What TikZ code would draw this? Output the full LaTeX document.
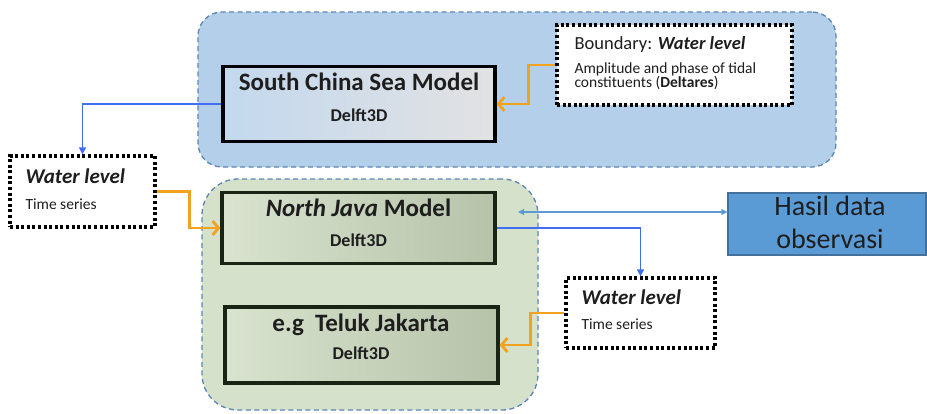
\documentclass[tikz,border=0pt]{standalone}
\usepackage{fontspec}
\setmainfont{Carlito}
\usetikzlibrary{arrows.meta}
\definecolor{seafill}{HTML}{B4CFEA}
\definecolor{landfill}{HTML}{D5E1CB}
\definecolor{contline}{HTML}{5B85B5}
\definecolor{orangeline}{HTML}{F3A21E}
\definecolor{blueline}{HTML}{3F6FF0}
\definecolor{obsblue}{HTML}{5B9BD5}
\definecolor{obsedge}{HTML}{41719C}
\definecolor{scsleft}{HTML}{C3D8EE}
\definecolor{scsright}{HTML}{E2E2E2}
\definecolor{njleft}{HTML}{D9E3CF}
\definecolor{njright}{HTML}{B6C3A9}
\definecolor{njedge}{HTML}{1A2414}
\definecolor{txt}{HTML}{1E1E1E}
\begin{document}
\begin{tikzpicture}[x=1pt,y=-1pt,
  container/.style={draw=contline, line width=1.3pt, dash pattern=on 5pt off 3.5pt, inner sep=0pt},
  modelbox/.style={draw=black, line width=3.2pt, inner sep=0pt},
  greenbox/.style={modelbox, draw=njedge, left color=njleft, right color=njright},
  dotbox/.style={draw=black, fill=white, line width=3.2pt, dash pattern=on 3pt off 2.6pt, inner sep=0pt},
  title/.style={anchor=base, text=txt, font=\fontsize{25}{30}\selectfont\bfseries},
  sub/.style={anchor=base, text=txt, font=\fontsize{18}{21}\selectfont\bfseries},
  small/.style={anchor=base west, text=txt, font=\fontsize{15.5}{18}\selectfont},
  wl/.style={anchor=base west, text=txt, font=\fontsize{21}{25}\selectfont\bfseries\itshape},
  obs/.style={anchor=base, text=txt, font=\fontsize{28}{33}\selectfont},
  oarr/.style={draw=orangeline, line width=2.8pt, -{Straight Barb[length=6pt,width=14pt]}},
  barr/.style={draw=blueline, line width=1.5pt, -{Triangle[length=7pt,width=7pt]}},
  darr/.style={draw=obsblue, line width=1.2pt, {Triangle[length=6pt,width=6pt]}-{Triangle[length=6pt,width=6pt]}}
]
\useasboundingbox (0,0) rectangle (927,413);

% containers
\node[container, fill=seafill, rounded corners=24pt, minimum width=638pt, minimum height=155pt] (sea) at (517,89.5) {};
\node[container, fill=landfill, rounded corners=36pt, minimum width=336pt, minimum height=231pt] (land) at (370,294.5) {};

% model boxes
\node[modelbox, left color=scsleft, right color=scsright, minimum width=272pt, minimum height=75pt] (scs) at (359,104) {};
\node[title] (scst) at (359,90) {South China Sea Model};
\node[sub] (scsd) at (359,121) {Delft3D};

\node[greenbox, minimum width=273pt, minimum height=71pt] (nj) at (358.5,228) {};
\node[title] (njt) at (358.5,216) {\itshape North Java\upshape\ Model};
\node[sub] (njd) at (358.5,246) {Delft3D};

\node[greenbox, minimum width=273pt, minimum height=76pt] (tj) at (361.5,345) {};
\node[title] (tjt) at (361,331) {e.g\ \ Teluk Jakarta};
\node[sub] (tjd) at (361,359) {Delft3D};

% dotted boxes
\node[dotbox, minimum width=235pt, minimum height=80pt] (bnd) at (674.5,65) {};
\node[anchor=base west, text=txt, font=\fontsize{18.5}{22}\selectfont] (bndt) at (571,49) {Boundary: \textbf{\textit{Water level}}};
\node[small] (bnd1) at (571,73) {Amplitude and phase of tidal};
\node[small] (bnd2) at (571,87) {constituents (\textbf{Deltares})};

\node[dotbox, minimum width=145pt, minimum height=71pt] (wll) at (82.5,191.5) {};
\node[wl] (wllt) at (22,183) {Water level};
\node[small] (wlls) at (22,209) {Time series};

\node[dotbox, minimum width=149pt, minimum height=70pt] (wlr) at (640.5,313) {};
\node[wl] (wlrt) at (578,304) {Water level};
\node[small] (wlrs) at (578,329) {Time series};

% observation box
\node[draw=obsedge, fill=obsblue, line width=1.2pt, minimum width=198pt, minimum height=62pt, inner sep=0pt] (obs) at (827,224) {};
\node[obs] (obs1) at (830,215) {Hasil data};
\node[obs] (obs2) at (830,248) {observasi};

% connectors
\draw[oarr] (bnd.west) -- ++(-27,0) |- (scs.east);
\draw[barr] (scs.west) -| (wll.north);
\draw[oarr] (wll.east) -- ++(33,0) |- (nj.west);
\draw[barr] (nj.east) -| (wlr.north);
\draw[oarr] (wlr.west) -- ++(-34,0) |- (tj.east);
\coordinate (obsin) at (518,212);
\draw[darr] (obsin) -- (obsin -| obs.west);
\end{tikzpicture}
\end{document}
